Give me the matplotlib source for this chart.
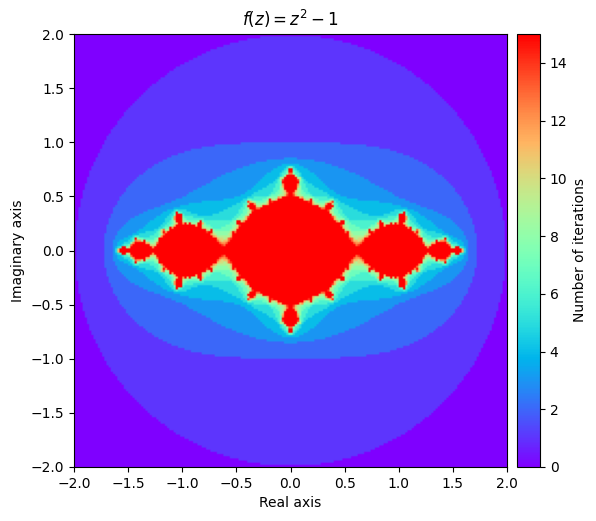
import numpy as np
import matplotlib
matplotlib.use("Agg")
import matplotlib.pyplot as plt

# parametres de l'ensemble de Julia
c = -1
max_iter = 15
escape_radius = 2
x_limits = [-2, 2]
y_limits = [-2, 2]
n_points = 200
x_ticks = [-2.0, -1.5, -1.0, -0.5, 0.0, 0.5, 1.0, 1.5, 2.0]
y_ticks = [-2.0, -1.5, -1.0, -0.5, 0.0, 0.5, 1.0, 1.5, 2.0]
cbar_ticks = [0, 2, 4, 6, 8, 10, 12, 14]


def julia_iterations():
    x = np.linspace(x_limits[0], x_limits[1], n_points)
    y = np.linspace(y_limits[0], y_limits[1], n_points)
    X, Y = np.meshgrid(x, y)
    z = X + 1j * Y
    counts = np.zeros(z.shape, dtype=int)
    active = np.abs(z) <= escape_radius
    for i in range(max_iter):
        counts[active] += 1
        z[active] = z[active] ** 2 + c
        active = active & (np.abs(z) <= escape_radius)
    return counts


counts = julia_iterations()

fig = plt.figure(figsize=(5.96, 5.21), dpi=100)
ax = fig.add_axes([74 / 596, 1 - 467 / 521, 433 / 596, 433 / 521])
cax = fig.add_axes([517 / 596, 1 - 467 / 521, 23 / 596, 433 / 521])

im = ax.imshow(counts, extent=x_limits + y_limits, origin="lower", cmap="rainbow",
               vmin=0, vmax=max_iter)
ax.set_xticks(x_ticks)
ax.set_yticks(y_ticks)
ax.set_title("$f(z) = z^2 - 1$")
ax.set_xlabel("Real axis")
ax.set_ylabel("Imaginary axis")

cbar = fig.colorbar(im, cax=cax)
cbar.set_ticks(cbar_ticks)
cbar.set_label("Number of iterations")

fig.savefig("out.png", dpi=100)
